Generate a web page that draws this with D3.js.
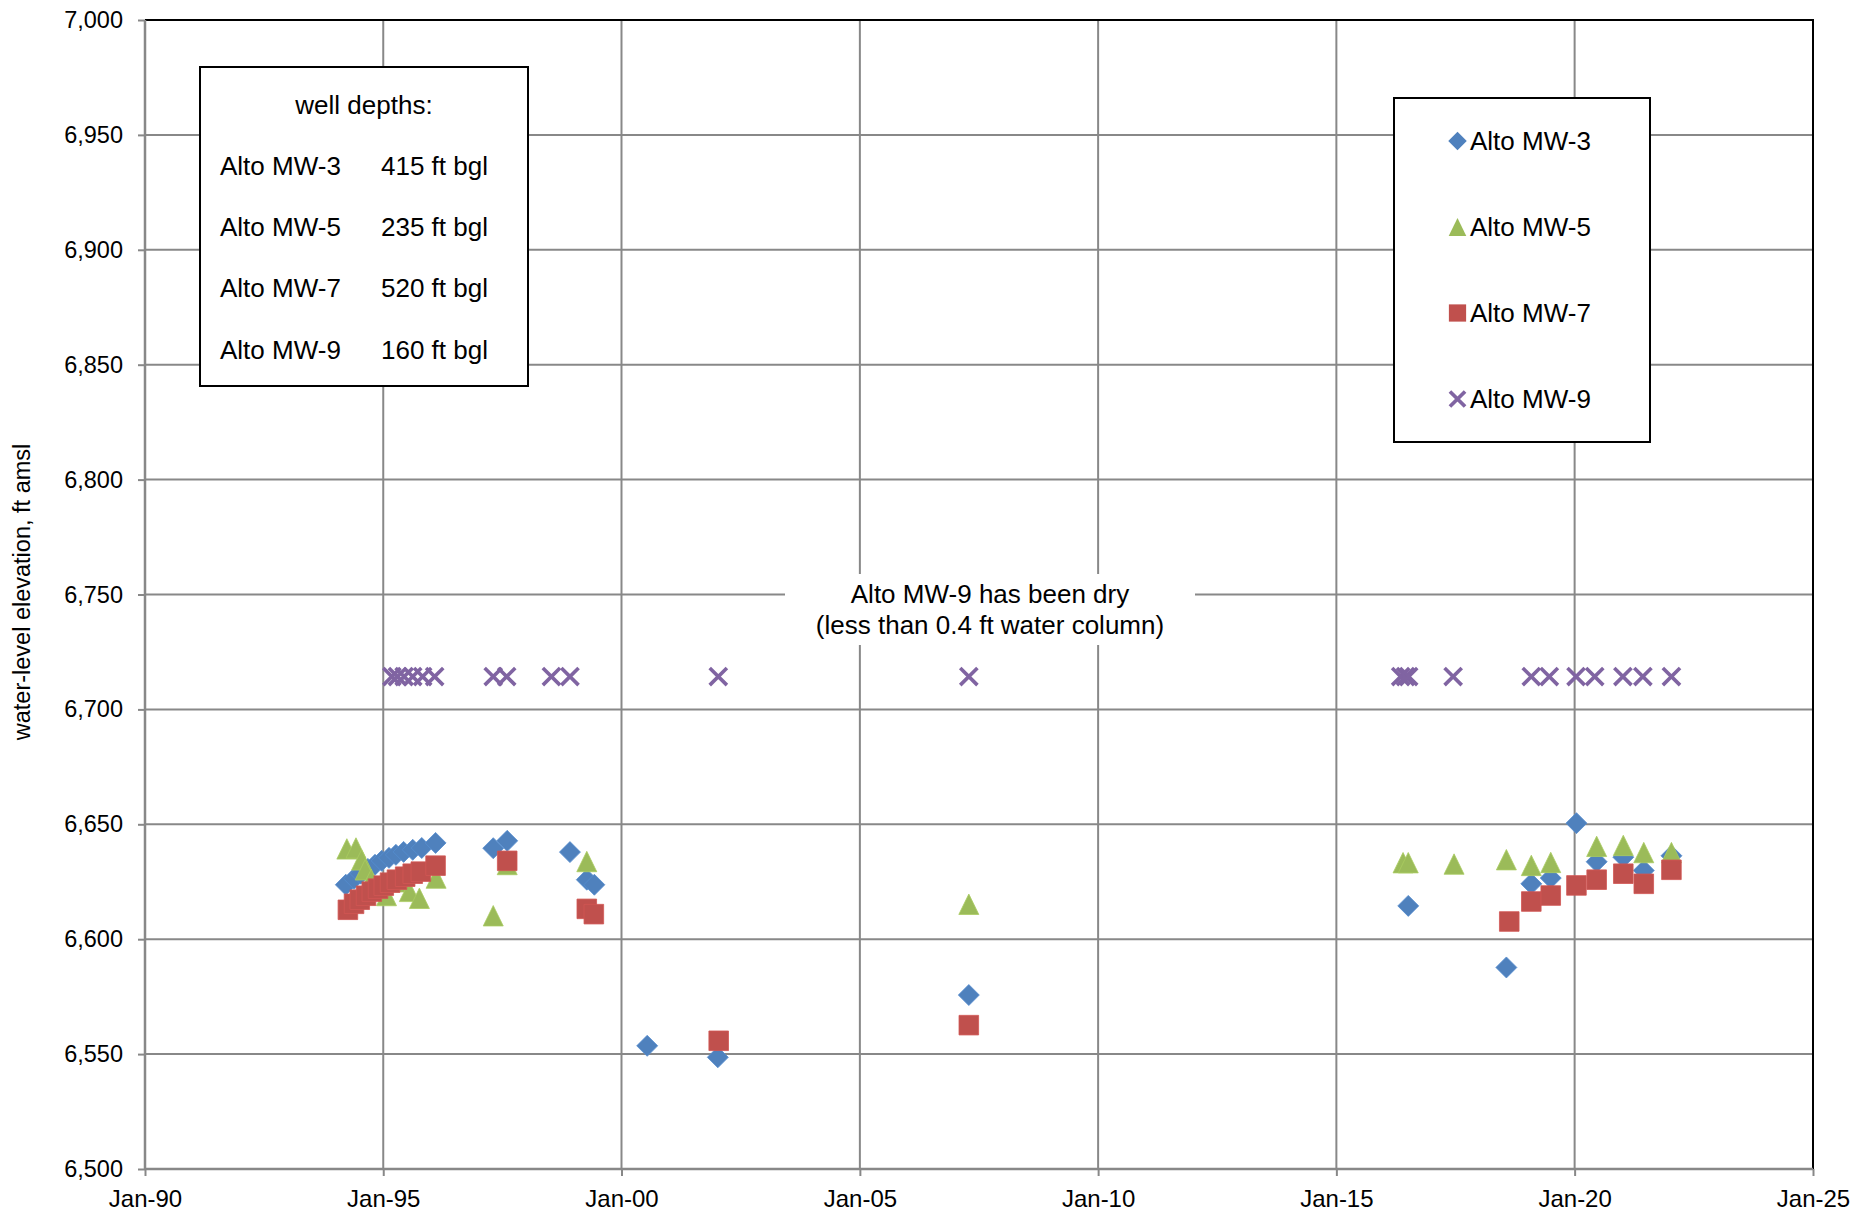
<!DOCTYPE html>
<html><head><meta charset="utf-8">
<script src="https://cdn.jsdelivr.net/npm/d3@7"></script>
<style>
body{margin:0;background:#fff;}
text{font-family:"Liberation Sans",Arial,sans-serif;fill:#000;}
</style>
</head><body>
<svg id="chart" width="1874" height="1212"></svg>
<script>
// ---------------- data ----------------
const seriesNames = ["Alto MW-3","Alto MW-5","Alto MW-7","Alto MW-9"];
const wellDepths = ["415 ft bgl","235 ft bgl","520 ft bgl","160 ft bgl"];

const mw3Dates = ["1994-03-20","1994-05-22","1994-07-12","1994-09-05","1994-10-30","1994-12-20","1995-02-14","1995-04-08","1995-06-06","1995-08-15","1995-10-23","1996-02-06","1997-04-23","1997-08-08","1998-12-02","1999-04-10","1999-06-07","2000-07-16","2002-01-08","2007-04-16","2016-07-05","2018-07-27","2019-02-03","2019-07-02","2020-01-15","2020-06-18","2021-01-08","2021-06-14","2022-01-12"];
const mw3Values = [6623.7,6626.3,6628.5,6630.6,6632.4,6634.1,6635.4,6636.7,6638.0,6638.9,6639.7,6641.9,6639.6,6642.8,6637.9,6625.9,6623.7,6553.6,6548.6,6575.7,6614.5,6587.7,6624.1,6626.6,6650.5,6633.7,6635.7,6629.9,6636.3];

const mw5Dates = ["1994-03-28","1994-06-06","1994-07-19","1994-08-15","1994-10-01","1995-01-26","1995-04-20","1995-07-20","1995-10-05","1996-02-10","1997-04-23","1997-08-08","1999-04-10","2007-04-16","2016-05-26","2016-07-05","2017-06-21","2018-07-27","2019-02-03","2019-07-02","2020-06-18","2021-01-08","2021-06-14","2022-01-12"];
const mw5Values = [6639.3,6639.7,6634.5,6630.2,6626.0,6619.0,6625.0,6620.8,6617.8,6626.6,6610.2,6632.5,6633.8,6615.2,6633.3,6633.3,6632.7,6634.6,6632.1,6633.4,6640.4,6640.8,6637.7,6637.7];

const mw7Dates = ["1994-04-05","1994-05-22","1994-07-05","1994-08-22","1994-10-05","1994-11-22","1995-01-05","1995-02-22","1995-04-16","1995-06-18","1995-08-15","1995-10-16","1996-02-06","1997-08-08","1999-04-10","1999-06-03","2002-01-15","2007-04-16","2018-08-18","2019-02-03","2019-07-02","2020-01-15","2020-06-18","2021-01-08","2021-06-14","2022-01-12"];
const mw7Values = [6612.8,6615.4,6617.2,6618.9,6620.7,6622.0,6623.3,6624.6,6625.9,6627.2,6628.5,6629.4,6632.0,6634.1,6613.2,6610.9,6555.8,6562.6,6607.7,6616.4,6619.0,6623.4,6625.9,6628.5,6624.1,6630.2];

const mw9Dates = ["1995-03-08","1995-04-20","1995-06-10","1995-08-15","1995-10-30","1996-01-30","1997-04-23","1997-08-04","1998-07-13","1998-12-02","2002-01-12","2007-04-16","2016-05-08","2016-06-14","2016-07-08","2017-06-14","2019-02-03","2019-06-21","2020-01-12","2020-06-03","2021-01-05","2021-06-07","2022-01-12"];
const mw9Values = [6714.3,6714.3,6714.3,6714.3,6714.3,6714.3,6714.3,6714.3,6714.3,6714.3,6714.3,6714.3,6714.3,6714.3,6714.3,6714.3,6714.3,6714.3,6714.3,6714.3,6714.3,6714.3,6714.3];

const yTicks = [6500,6550,6600,6650,6700,6750,6800,6850,6900,6950,7000];
const xTickDates = ["1990-01-01","1995-01-01","2000-01-01","2005-01-01","2010-01-01","2015-01-01","2020-01-01","2025-01-01"];
const noteLines = ["Alto MW-9 has been dry","(less than 0.4 ft water column)"];
const depthTitle = "well depths:";

// ---------------- chart ----------------
const svg = d3.select("#chart");
const L = 145, R = 1813, T = 20, B = 1169;
const parse = d3.utcParse("%Y-%m-%d");
const x = d3.scaleUtc().domain([parse(xTickDates[0]), parse(xTickDates[xTickDates.length-1])]).range([L, R]);
const y = d3.scaleLinear().domain([6500, 7000]).range([B, T]);

const colors = ["#4F81BD","#9BBB59","#C0504D","#8064A2"];
const shapes = [
  "M0,-10.5L10.5,0L0,10.5L-10.5,0Z",
  "M0,-10.2L10,10.2L-10,10.2Z",
  "M-9.8,-9.8H9.8V9.8H-9.8Z",
  "M-8.6,-8.6L8.6,8.6M-8.6,8.6L8.6,-8.6"
];

svg.append("rect").attr("width",1874).attr("height",1212).attr("fill","#fff");

const grid = svg.append("g");
xTickDates.slice(1, -1).forEach(d => {
  grid.append("line").attr("x1", x(parse(d))).attr("x2", x(parse(d)))
    .attr("y1", T).attr("y2", B).attr("stroke", "#888").attr("stroke-width", 2);
});
yTicks.slice(1, -1).forEach(v => {
  grid.append("line").attr("x1", L).attr("x2", R).attr("y1", y(v)).attr("y2", y(v))
    .attr("stroke", "#888").attr("stroke-width", 2);
});
// top & right frame (black)
svg.append("path").attr("d", `M${L},${T}H${R}V${B}`).attr("fill","none").attr("stroke","#000").attr("stroke-width",2);

// axes
const yAxis = svg.append("g").attr("transform", `translate(${L},0)`)
  .call(d3.axisLeft(y).tickValues(yTicks).tickFormat(d3.format(",")).tickSize(7).tickPadding(15));
const xAxis = svg.append("g").attr("transform", `translate(0,${B})`)
  .call(d3.axisBottom(x).tickValues(xTickDates.map(parse)).tickFormat(d3.utcFormat("%b-%y")).tickSize(7).tickPadding(14));
[yAxis, xAxis].forEach(a => {
  a.select(".domain").attr("stroke", "#888").attr("stroke-width", 2.5);
  a.selectAll(".tick line").attr("stroke", "#888").attr("stroke-width", 2);
  a.selectAll("text").attr("font-family", '"Liberation Sans",Arial,sans-serif').attr("fill", "#000");
});
yAxis.selectAll("text").attr("font-size", "23.5px");
xAxis.selectAll("text").attr("font-size", "24px");
yAxis.select(".domain").attr("d", `M0,${T}V${B}`);
xAxis.select(".domain").attr("d", `M${L},0H${R}`);

// y axis title
svg.append("text").attr("transform", "translate(30,592) rotate(-90)")
  .attr("text-anchor", "middle").attr("font-size", "23.5px")
  .text("water-level elevation, ft amsl");

// annotation (white background over grid)
svg.append("rect").attr("x", 785).attr("y", 574).attr("width", 410).attr("height", 71).attr("fill", "#fff");
noteLines.forEach((t, i) => {
  svg.append("text").attr("x", 990).attr("y", 603 + i * 31).attr("text-anchor", "middle")
    .attr("font-size", "26px").text(t);
});

// well depth box
const db = svg.append("g");
db.append("rect").attr("x", 200).attr("y", 67).attr("width", 328).attr("height", 319)
  .attr("fill", "#fff").attr("stroke", "#000").attr("stroke-width", 2);
db.append("text").attr("x", 364).attr("y", 114).attr("text-anchor", "middle").attr("font-size", "26px").text(depthTitle);
seriesNames.forEach((n, i) => {
  db.append("text").attr("x", 220).attr("y", 175 + i * 61.2).attr("font-size", "26px").text(n);
  db.append("text").attr("x", 381).attr("y", 175 + i * 61.2).attr("font-size", "26px").text(wellDepths[i]);
});

// legend box
const lg = svg.append("g");
lg.append("rect").attr("x", 1394).attr("y", 98).attr("width", 256).attr("height", 344)
  .attr("fill", "#fff").attr("stroke", "#000").attr("stroke-width", 2);
seriesNames.forEach((n, i) => {
  const cy = 141 + i * 86;
  const m = lg.append("path").attr("d", shapes[i])
    .attr("transform", `translate(1457.5,${cy}) scale(0.88)`);
  if (i === 3) m.attr("fill", "none").attr("stroke", colors[i]).attr("stroke-width", 4.2);
  else m.attr("fill", colors[i]);
  lg.append("text").attr("x", 1470).attr("y", cy + 9).attr("font-size", "26px").text(n);
});

// markers
const series = [
  {dates: mw3Dates, values: mw3Values},
  {dates: mw5Dates, values: mw5Values},
  {dates: mw7Dates, values: mw7Values},
  {dates: mw9Dates, values: mw9Values}
];
series.forEach((s, i) => {
  const pts = s.dates.map((d, k) => ({date: parse(d), value: s.values[k]}));
  const g = svg.append("g");
  const sel = g.selectAll("path").data(pts).join("path")
    .attr("d", shapes[i])
    .attr("transform", p => `translate(${x(p.date)},${y(p.value)})`);
  if (i === 3) sel.attr("fill", "none").attr("stroke", colors[i]).attr("stroke-width", 3.6);
  else sel.attr("fill", colors[i]).attr("stroke", d3.color(colors[i]).brighter(0.25)).attr("stroke-width", 0.8);
});
</script>
</body></html>
